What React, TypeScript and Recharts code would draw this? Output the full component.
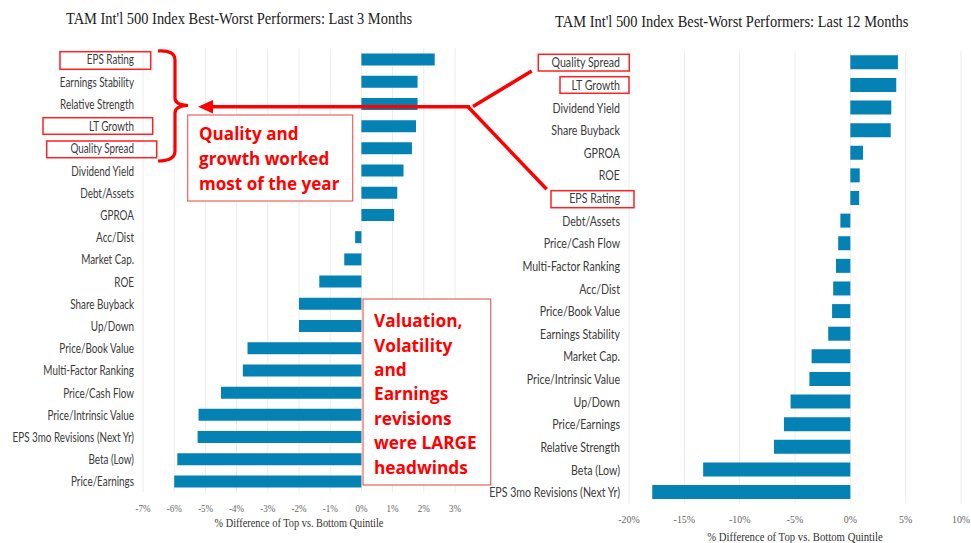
import React from "react";
import { BarChart, Bar, XAxis, YAxis, CartesianGrid } from "recharts";

const leftCategories = [
  "EPS Rating", "Earnings Stability", "Relative Strength", "LT Growth", "Quality Spread",
  "Dividend Yield", "Debt/Assets", "GPROA", "Acc/Dist", "Market Cap.", "ROE",
  "Share Buyback", "Up/Down", "Price/Book Value", "Multi-Factor Ranking", "Price/Cash Flow",
  "Price/Intrinsic Value", "EPS 3mo Revisions (Next Yr)", "Beta (Low)", "Price/Earnings",
];
const leftValues = [2.35, 1.8, 1.8, 1.75, 1.62, 1.35, 1.15, 1.05, -0.2, -0.55, -1.35, -2.0, -2.0, -3.65, -3.8, -4.5, -5.22, -5.25, -5.9, -6.0];
const leftTicks = [-7, -6, -5, -4, -3, -2, -1, 0, 1, 2, 3];

const rightCategories = [
  "Quality Spread", "LT Growth", "Dividend Yield", "Share Buyback", "GPROA", "ROE",
  "EPS Rating", "Debt/Assets", "Price/Cash Flow", "Multi-Factor Ranking", "Acc/Dist",
  "Price/Book Value", "Earnings Stability", "Market Cap.", "Price/Intrinsic Value",
  "Up/Down", "Price/Earnings", "Relative Strength", "Beta (Low)", "EPS 3mo Revisions (Next Yr)",
];
const rightValues = [4.3, 4.15, 3.7, 3.65, 1.15, 0.85, 0.8, -0.9, -1.1, -1.3, -1.55, -1.65, -2.0, -3.5, -3.7, -5.4, -6.0, -6.9, -13.3, -17.9];
const rightTicks = [-20, -15, -10, -5, 0, 5, 10];

const leftTitle = "TAM Int'l 500 Index Best-Worst Performers: Last 3 Months";
const rightTitle = "TAM Int'l 500 Index Best-Worst Performers: Last 12 Months";
const axisTitle = "% Difference of Top vs. Bottom Quintile";
const noteTop = ["Quality and", "growth worked", "most of the year"];
const noteBottom = ["Valuation,", "Volatility", "and", "Earnings", "revisions", "were LARGE", "headwinds"];

const leftData = leftCategories.map((name, i) => ({ name, value: leftValues[i] }));
const rightData = rightCategories.map((name, i) => ({ name, value: rightValues[i] }));

const BAR = "#0582b4";
const RED = "#ff0000";

function SText({ x, y, sx = 1, anchor = "middle", size = 12, family = "Lato", fill = "#333", weight = "normal", children }: any) {
  return (
    <text
      transform={`translate(${x},${y}) scale(${sx},1)`}
      x={0}
      y={0}
      textAnchor={anchor}
      dominantBaseline="central"
      fontSize={size}
      fontFamily={family}
      fill={fill}
      fontWeight={weight}
    >
      {children}
    </text>
  );
}

const makeYTick = (sx: number) => (props: any) => {
  const { x, y, payload } = props;
  return (
    <SText x={x} y={y} sx={sx} anchor="end" size={12.5} family="Lato" fill="#3a3a3a">
      {payload.value}
    </SText>
  );
};

const makeXTick = (sx: number, size: number) => (props: any) => {
  const { x, y, payload } = props;
  return (
    <SText x={x} y={y + 15.4} sx={sx} size={size} family="Liberation Serif" fill="#666">
      {`${payload.value}%`}
    </SText>
  );
};

export default function App() {
  return (
    <div style={{ position: "absolute", left: 0, top: 0, width: 971, height: 543, background: "#fff", overflow: "hidden" }}>
      <div style={{ position: "absolute", left: 0, top: 0 }}>
        <BarChart
          width={480}
          height={543}
          data={leftData}
          layout="vertical"
          margin={{ top: 48.4, right: 25, bottom: 20.4, left: 0 }}
          barCategoryGap="23%"
        >
          <CartesianGrid horizontal={false} stroke="#ececec" />
          <XAxis
            type="number"
            domain={[-7, 3]}
            ticks={leftTicks}
            axisLine={false}
            tickLine={false}
            tickSize={0}
            tickMargin={0}
            height={30}
            interval={0}
            tick={makeXTick(0.86, 10.5)}
          />
          <YAxis
            type="category"
            dataKey="name"
            width={143}
            axisLine={false}
            tickLine={false}
            tickSize={0}
            tickMargin={9}
            interval={0}
            tick={makeYTick(0.79)}
          />
          <Bar dataKey="value" fill={BAR} isAnimationActive={false} />
        </BarChart>
      </div>
      <div style={{ position: "absolute", left: 480, top: 0 }}>
        <BarChart
          width={491}
          height={543}
          data={rightData}
          layout="vertical"
          margin={{ top: 51.2, right: 10, bottom: 9.4, left: 0 }}
          barCategoryGap="18%"
        >
          <CartesianGrid horizontal={false} stroke="#ececec" />
          <XAxis
            type="number"
            domain={[-20, 10]}
            ticks={rightTicks}
            axisLine={false}
            tickLine={false}
            tickSize={0}
            tickMargin={0}
            height={30}
            interval={0}
            tick={makeXTick(0.9, 11)}
          />
          <YAxis
            type="category"
            dataKey="name"
            width={149}
            axisLine={false}
            tickLine={false}
            tickSize={0}
            tickMargin={9}
            interval={0}
            tick={makeYTick(0.85)}
          />
          <Bar dataKey="value" fill={BAR} isAnimationActive={false} />
        </BarChart>
      </div>
      <svg width={971} height={543} style={{ position: "absolute", left: 0, top: 0, pointerEvents: "none" }}>
        <SText x={239} y={18} sx={0.85} size={17} family="Liberation Serif" fill="#1a1a1a">{leftTitle}</SText>
        <SText x={731.7} y={20.7} sx={0.85} size={17} family="Liberation Serif" fill="#1a1a1a">{rightTitle}</SText>
        <SText x={299} y={523} sx={0.86} size={12} family="Liberation Serif" fill="#333">{axisTitle}</SText>
        <SText x={795} y={537} sx={0.86} size={12.5} family="Liberation Serif" fill="#333">{axisTitle}</SText>

        {/* label boxes */}
        <g fill="none" stroke="#ff2020" strokeWidth={1.5}>
          <rect x={60} y={51.7} width={90.7} height={17.6} />
          <rect x={43} y={117.7} width={109.7} height={16.6} />
          <rect x={46.7} y={141} width={110} height={16.7} />
          <rect x={538.3} y={54.3} width={91} height={16.7} />
          <rect x={560} y={76.7} width={69} height={16.6} />
          <rect x={551} y={190.7} width={83} height={17} />
        </g>

        {/* bracket */}
        <path
          d="M 158 51 Q 175 50 175 60 L 175 98 Q 175 105 188 105.5 Q 175 106 175 113 L 175 151 Q 175 161 158 161"
          fill="none"
          stroke={RED}
          strokeWidth={3.2}
        />

        {/* arrow */}
        <line x1={210} y1={106.7} x2={470} y2={106.7} stroke={RED} strokeWidth={3.5} />
        <polygon points="198,106.7 213,100 213,113.4" fill={RED} />
        <line x1={473} y1={106.5} x2={531.7} y2={71} stroke={RED} strokeWidth={3.5} />
        <line x1={468} y1={106.7} x2={546.7} y2={189.3} stroke={RED} strokeWidth={3.5} />

        {/* note boxes */}
        <rect x={187.7} y={115} width={165} height={86} fill="#fff" stroke="#f06060" strokeWidth={1.2} />
        {noteTop.map((t, i) => (
          <SText key={t} x={199} y={133 + i * 25} sx={0.95} anchor="start" size={18} family="Open Sans" weight="bold" fill={RED}>{t}</SText>
        ))}
        <rect x={363} y={299} width={127.7} height={186} fill="#fff" stroke="#f06060" strokeWidth={1.2} />
        {noteBottom.map((t, i) => (
          <SText key={t} x={374} y={320 + i * 24.4} sx={0.96} anchor="start" size={18} family="Open Sans" weight="bold" fill={RED}>{t}</SText>
        ))}
      </svg>
    </div>
  );
}
